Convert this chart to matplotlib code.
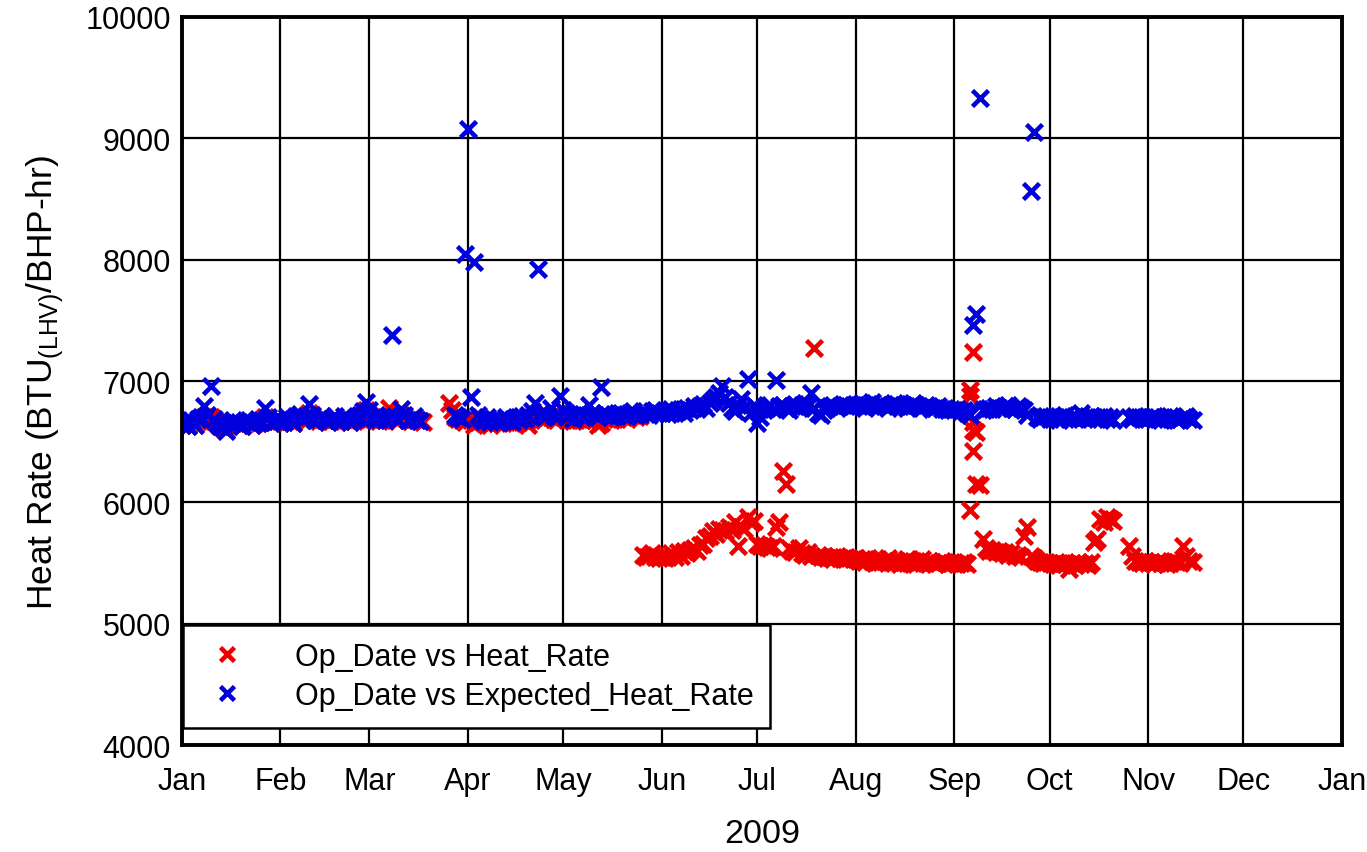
import datetime

import matplotlib
matplotlib.use('Agg')
import matplotlib.pyplot as plt
import matplotlib.dates as mdates
import numpy as np

plt.rcParams['font.family'] = ['Liberation Sans', 'DejaVu Sans']
plt.rcParams['mathtext.fontset'] = 'custom'
plt.rcParams['mathtext.rm'] = 'Liberation Sans'

nan = np.nan

# daily Expected_Heat_Rate (blue), 2009, nan = no reading
blue_jan = [6650, 6670, 6630, 6680, 6640, 6690, 6700, 6790, 6720, 6960, 6690, 6650, 6630, 6620, 6590, 6650,
            6680, 6650, 6660, 6630, 6670, 6680, 6640, 6660, 6690, 6660, 6780, 6700, 6650, 6680, 6670]
blue_feb = [6690, 6660, 6700, 6680, 6650, 6710, 6730, 6680, 6710, 6810, 6720, 6680, 6690, 6710, 6680, 6660,
            6690, 6710, 6680, 6670, 6710, 6690, 6660, 6690, 6700, 6720, 6750, 6830]
blue_mar = [6760, 6700, 6680, 6690, 6710, 6680, 6720, 7380, 6700, 6680, 6770, 6720, 6680, 6690, 6710, 6680,
            6670, nan, nan, nan, nan, nan, nan, nan, nan, nan, nan, 6720, 6700, 6690, 8050]
blue_apr = [9080, 6870, 7980, 6720, 6690, 6670, 6700, 6660, 6690, 6660, 6690, 6670, 6700, 6680, 6660, 6700,
            6680, 6710, 6690, 6720, 6750, 6820, 7920, 6740, 6700, 6720, 6780, 6710, 6730, 6880]
blue_may = [6760, 6700, 6730, 6690, 6720, 6740, 6700, 6720, 6800, 6740, 6720, 6700, 6950, 6740, 6720, 6700,
            6730, 6710, 6740, 6720, 6710, 6740, 6750, 6720, 6730, 6750, 6730, 6720, 6750, 6760, 6740]
blue_jun = [6740, 6760, 6730, 6770, 6740, 6750, 6770, 6740, 6780, 6760, 6790, 6770, 6790, 6810, 6780, 6820,
            6840, 6870, 6900, 6960, 6870, 6820, 6780, 6750, 6800, 6850, 6780, 7020, 6740, 6800]
blue_jul = [6650, 6700, 6760, 6780, 6800, 6770, 7010, 6790, 6800, 6780, 6760, 6790, 6810, 6780, 6800, 6820,
            6790, 6900, 6780, 6740, 6720, 6760, 6780, 6790, 6800, 6780, 6790, 6810, 6800, 6790, 6800]
blue_aug = [6800, 6790, 6820, 6780, 6800, 6830, 6790, 6800, 6810, 6790, 6780, 6800, 6820, 6810, 6790, 6800,
            6780, 6790, 6820, 6800, 6790, 6780, 6800, 6790, 6770, 6780, 6790, 6770, 6780, 6760, 6770]
blue_sep = [6760, 6770, 6750, 6760, 6740, 6720, 7460, 7550, 9330, 6760, 6770, 6780, 6770, 6790, 6780, 6770,
            6790, 6800, 6780, 6770, 6790, 6780, 6760, 6720, 8570, 9050, 6700, 6690, 6700, 6710]
blue_oct = [6690, 6710, 6700, 6680, 6700, 6720, 6690, 6700, 6710, 6690, 6740, 6700, 6690, 6710, 6700, 6690,
            6700, 6710, 6690, 6700, 6680, nan, nan, nan, nan, 6700, 6690, 6710, 6700, 6690, 6700]
blue_nov = [6690, 6700, 6710, 6690, 6680, 6700, 6690, 6710, 6700, 6680, 6690, 6700, 6710, 6690, 6680]

# daily Heat_Rate (red)
red_jan = [6640, 6650, 6630, 6660, 6640, 6670, 6690, 6700, 6680, 6700, 6670, 6650, 6630, 6610, 6600, 6640,
           6660, 6650, 6640, 6630, 6650, 6660, 6640, 6650, 6670, 6660, 6700, 6680, 6650, 6660, 6670]
red_feb = [6670, 6660, 6680, 6670, 6650, 6690, 6700, 6680, 6690, 6740, 6700, 6680, 6670, 6690, 6680, 6660,
           6670, 6690, 6680, 6670, 6690, 6680, 6660, 6670, 6690, 6700, 6720, 6760]
red_mar = [6720, 6690, 6680, 6670, 6690, 6680, 6780, 6700, 6680, 6670, 6720, 6700, 6680, 6670, 6690, 6680,
           6670, 6660, nan, nan, nan, nan, nan, nan, nan, 6820, 6760, 6700, 6690, 6680, 6660]
red_apr = [6700, 6680, 6640, 6660, 6670, 6650, 6660, 6640, 6660, 6650, 6660, 6650, 6670, 6660, 6650, 6670,
           6660, 6680, 6670, 6640, 6700, 6720, 6700, 6690, 6680, 6700, 6710, 6690, 6700, 6720]
red_may = [6700, 6680, 6690, 6670, 6680, 6700, 6680, 6690, 6700, 6690, 6680, 6640, 6650, 6700, 6690, 6680,
           6700, 6690, 6710, 6700, 6690, 6710, 6720, 6700, 6710, 5570, 5550, 5560, 5580, 5550, 5540]
red_jun = [5560, 5540, 5550, 5580, 5550, 5590, 5560, 5600, 5580, 5610, 5620, 5600, 5650, 5660, 5710, 5720,
           5760, 5740, 5780, 5770, 5760, 5800, 5770, 5840, 5640, 5800, 5780, 5880, 5830, 5850]
red_jul = [5660, 5640, 5650, 5630, 5620, 5640, 5800, 5840, 6260, 6150, 5620, 5600, 5590, 5620, 5580, 5570,
           5590, 5560, 7270, 5570, 5550, 5560, 5540, 5550, 5530, 5560, 5540, 5530, 5550, 5540, 5530]
red_aug = [5540, 5520, 5530, 5510, 5540, 5520, 5500, 5530, 5510, 5520, 5540, 5510, 5500, 5520, 5490, 5510,
           5530, 5500, 5520, 5490, 5510, 5530, 5500, 5520, 5510, 5490, 5500, 5520, 5510, 5490, 5500]
red_sep = [5510, 5490, 5500, 5510, 5490, 5940, 7240, 6150, 6140, 5700, 5620, 5600, 5610, 5590, 5600, 5580,
           5590, 5570, 5580, 5560, 5570, 5550, 5720, 5800, 5560, 5540, 5520, 5510, 5500, 5510]
red_oct = [5500, 5490, 5510, 5480, 5500, 5490, 5450, 5500, 5480, 5510, 5490, 5500, 5480, 5510, 5670, 5700,
           5860, 5840, 5880, 5860, 5850, nan, nan, nan, nan, 5640, 5560, 5520, 5510, 5500, 5520]
red_nov = [5500, 5510, 5490, 5520, 5500, 5510, 5490, 5500, 5520, 5510, 5500, 5640, 5560, 5520, 5510]

# extra readings on days with more than one record
red_extra_dates = ['2009-09-06', '2009-09-06', '2009-09-07', '2009-09-07', '2009-09-07', '2009-09-08']
red_extra_vals = [6930, 6880, 6660, 6600, 6420, 6580]


def month_dates(month, vals):
    start = datetime.date(2009, month, 1)
    return [start + datetime.timedelta(days=i) for i in range(len(vals))]


blue_months = [blue_jan, blue_feb, blue_mar, blue_apr, blue_may, blue_jun,
               blue_jul, blue_aug, blue_sep, blue_oct, blue_nov]
red_months = [red_jan, red_feb, red_mar, red_apr, red_may, red_jun,
              red_jul, red_aug, red_sep, red_oct, red_nov]

blue_x, blue_y, red_x, red_y = [], [], [], []
for m, vals in enumerate(blue_months, start=1):
    blue_x += month_dates(m, vals)
    blue_y += vals
for m, vals in enumerate(red_months, start=1):
    red_x += month_dates(m, vals)
    red_y += vals
red_x += [datetime.date.fromisoformat(d) for d in red_extra_dates]
red_y += red_extra_vals

fig = plt.figure(figsize=(13.67, 8.53), dpi=100)
ax = fig.add_axes([0.1331, 0.1254, 0.8486, 0.8535])

ax.plot(red_x, red_y, linestyle='none', marker='x', color='#ee0000', markersize=12, mew=3.3,
        label='Op_Date vs Heat_Rate')
ax.plot(blue_x, blue_y, linestyle='none', marker='x', color='#0000dd', markersize=12, mew=3.3,
        label='Op_Date vs Expected_Heat_Rate')

ax.set_xlim(datetime.date(2009, 1, 1), datetime.date(2010, 1, 1))
ax.set_ylim(4000, 10000)
ax.set_yticks(range(4000, 10001, 1000))
ax.xaxis.set_major_locator(mdates.MonthLocator())
ax.xaxis.set_major_formatter(mdates.DateFormatter('%b'))

ax.grid(True, color='black', linewidth=1.6)
ax.set_axisbelow(True)
for s in ax.spines.values():
    s.set_linewidth(2.8)
ax.tick_params(length=0, labelsize=22)
ax.tick_params(axis='x', pad=15)
ax.tick_params(axis='y', pad=8)

ax.set_ylabel(r'Heat Rate (BTU$_{\mathregular{(LHV)}}$/BHP-hr)', fontsize=25.5, labelpad=14)
ax.set_xlabel('2009', fontsize=24.5, labelpad=16)

leg = ax.legend(loc='lower left', bbox_to_anchor=(0.001, 0.024), borderaxespad=0,
                fontsize=22, fancybox=False, framealpha=1, edgecolor='black',
                handletextpad=1.3, borderpad=0.55, labelspacing=0.3, handlelength=1.8,
                markerscale=0.85)
leg.get_frame().set_linewidth(1.8)

fig.savefig('out.png', dpi=100)
